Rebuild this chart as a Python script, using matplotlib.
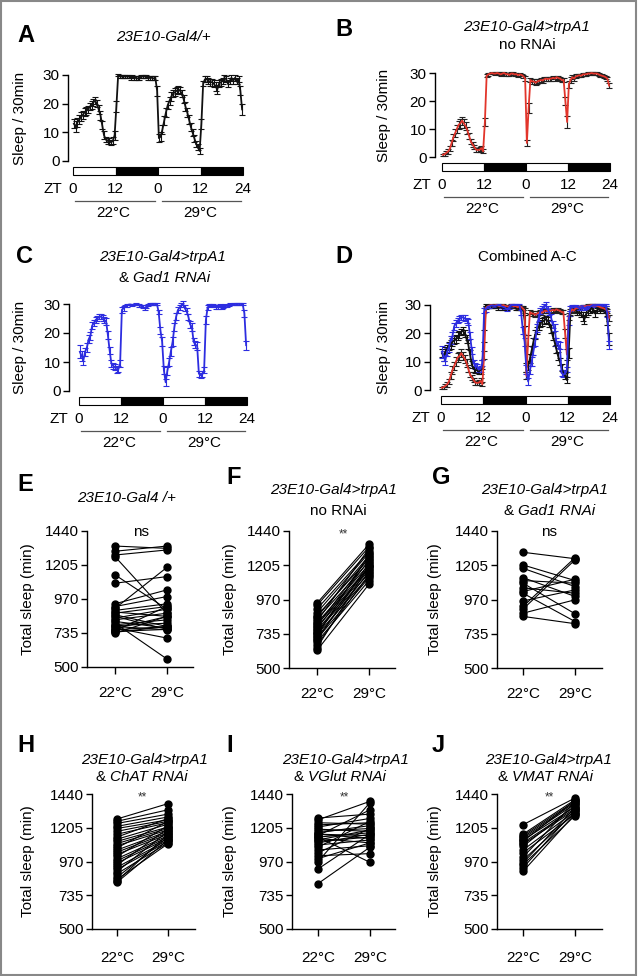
import numpy as np
import matplotlib
matplotlib.use('Agg')
import matplotlib.pyplot as plt
from matplotlib.patches import Rectangle
from matplotlib.transforms import blended_transform_factory

plt.rcParams['font.family'] = ['Liberation Sans', 'DejaVu Sans']
plt.rcParams['axes.linewidth'] = 1.0

# ---------------- data: sleep per 30 min (48 h, 96 half-hour bins) ----------------
# 23E10-Gal4/+  (black)
A_d1 = [13, 12, 13.5, 14.5, 15.5, 16, 17, 17.5, 18, 19, 19.5, 20.5, 21, 20, 18, 16, 12.5, 9, 7.5, 7, 7, 6.5, 7, 9]
A_n1 = [19, 30, 29.5, 29.5, 29.5, 29.5, 29.5, 29.5, 29, 29.5, 29, 29, 28.8, 29, 29.5, 29.5, 29.5, 29.5, 29, 29, 29, 28.8, 29, 24.5]
A_d2 = [8, 8.5, 11, 14, 17, 19.5, 21, 22.5, 23.5, 24, 24.5, 25, 24.5, 23.5, 21.5, 19, 17, 14.5, 12, 10, 8, 6, 5, 3.5]
A_n2 = [13, 27, 28.5, 28.5, 28, 27.5, 27.5, 27, 26, 25, 27, 27.5, 28, 29, 28.5, 27, 28, 29, 28, 29, 28, 28.5, 24.5, 18]
A_sem_d1 = [1.5, 1.8, 1.6, 1.5, 1.5, 1.5, 1.4, 1.4, 1.3, 1.3, 1.3, 1.2, 1.2, 1.3, 1.5, 1.6, 1.5, 1.3, 1.0, 1.0, 0.9, 1.0, 1.2, 1.5]
A_sem_n1 = [2.0, 0.4, 0.5, 0.5, 0.5, 0.5, 0.5, 0.6, 0.6, 0.5, 0.6, 0.6, 0.7, 0.6, 0.5, 0.5, 0.5, 0.5, 0.6, 0.6, 0.6, 0.7, 0.6, 1.8]
A_sem_d2 = [1.5, 1.6, 1.6, 1.6, 1.5, 1.5, 1.4, 1.4, 1.3, 1.3, 1.2, 1.2, 1.2, 1.3, 1.4, 1.5, 1.5, 1.5, 1.4, 1.3, 1.2, 1.1, 1.0, 1.2]
A_sem_n2 = [1.8, 1.0, 1.0, 1.0, 1.0, 1.2, 1.2, 1.2, 1.5, 1.6, 1.2, 1.2, 1.0, 1.0, 1.0, 1.3, 1.0, 1.0, 1.0, 1.0, 1.0, 1.0, 1.5, 2.0]

# 23E10-Gal4>trpA1 no RNAi (red)
B_d1 = [0.8, 1, 1.5, 2, 3, 5, 7, 8.5, 10, 11.5, 12, 13, 12, 11, 9.5, 7.5, 5.5, 4.5, 3.5, 2.6, 2.5, 2.6, 3.2, 2]
B_n1 = [12.4, 29, 29.5, 29.8, 30, 29.8, 29.8, 30, 29.8, 29.5, 29.8, 30, 29.6, 29.6, 29.3, 29.8, 29.8, 29.5, 29.6, 29.2, 29.5, 29.3, 28.8, 28]
B_d2 = [5, 17.5, 27.5, 27, 27, 26.5, 27, 27.2, 27.5, 27.3, 27.8, 28, 27.8, 28, 28, 28.3, 28, 28.5, 28.2, 28, 27.5, 27.5, 20, 12.5]
B_n2 = [26, 27.5, 28.5, 28, 28.8, 29, 29.2, 29, 29.5, 29.5, 29.6, 29.8, 29.8, 30, 29.8, 29.8, 29.8, 29.5, 29.2, 29, 28.8, 28.5, 28, 25.5]
B_sem_d1 = [0.4, 0.5, 0.6, 0.8, 1.0, 1.2, 1.3, 1.4, 1.5, 1.5, 1.5, 1.4, 1.5, 1.4, 1.3, 1.2, 1.0, 0.9, 0.8, 0.7, 0.7, 0.8, 0.9, 0.7]
B_sem_n1 = [1.5, 0.5, 0.4, 0.3, 0.3, 0.3, 0.4, 0.3, 0.4, 0.4, 0.4, 0.3, 0.5, 0.5, 0.5, 0.4, 0.4, 0.5, 0.5, 0.6, 0.5, 0.5, 0.6, 0.8]
B_sem_d2 = [1.2, 1.8, 0.8, 0.8, 0.8, 0.8, 0.8, 0.8, 0.7, 0.8, 0.7, 0.7, 0.8, 0.7, 0.7, 0.6, 0.7, 0.6, 0.7, 0.7, 0.8, 0.8, 1.5, 2.0]
B_sem_n2 = [1.2, 1.0, 0.8, 0.8, 0.7, 0.6, 0.6, 0.6, 0.5, 0.5, 0.5, 0.4, 0.4, 0.3, 0.4, 0.4, 0.4, 0.5, 0.5, 0.6, 0.6, 0.6, 0.7, 1.0]

# 23E10-Gal4>trpA1 & Gad1 RNAi (blue)
C_d1 = [13.5, 12, 10.6, 13.5, 15, 17.8, 19, 22.5, 23.5, 24.5, 25, 25.6, 25.6, 25.3, 24.5, 24, 19.3, 14, 9.5, 8.6, 8.3, 7.2, 7.5, 9.5]
C_n1 = [28, 28.5, 29.3, 29.5, 29.8, 29.8, 29.6, 29.8, 30, 29.8, 29.5, 29.3, 29, 28.5, 29, 29.7, 30, 30, 30, 30, 30, 27.3, 21, 17]
C_d2 = [7.2, 3, 7, 10, 13.7, 17, 22, 25.6, 27.9, 28.8, 29.6, 30, 28.5, 27.5, 25.6, 23, 22, 17, 16, 15.6, 6, 5.4, 5.8, 7.2]
C_n2 = [24.5, 28.8, 29.5, 29.7, 29.5, 29.3, 29, 28.8, 29.5, 28.8, 29.2, 29.5, 29.3, 29.7, 30, 29.8, 30, 30, 30, 30, 30, 30, 26.8, 15.8]
C_sem_d1 = [2.2, 1.8, 1.6, 1.5, 1.5, 1.4, 1.3, 1.2, 1.1, 1.0, 1.0, 0.9, 0.9, 1.0, 1.0, 1.1, 1.3, 1.3, 1.2, 1.1, 1.0, 1.0, 1.0, 1.2]
C_sem_n1 = [1.0, 0.8, 0.5, 0.4, 0.3, 0.3, 0.4, 0.3, 0.2, 0.3, 0.4, 0.4, 0.5, 0.6, 0.5, 0.3, 0.2, 0.2, 0.2, 0.2, 0.2, 0.8, 1.2, 1.5]
C_sem_d2 = [1.5, 1.2, 1.4, 1.5, 1.5, 1.5, 1.4, 1.2, 1.0, 1.0, 0.8, 0.9, 1.0, 1.0, 1.1, 1.2, 1.3, 1.3, 1.3, 1.3, 1.0, 0.9, 1.0, 1.0]
C_sem_n2 = [1.5, 0.8, 0.5, 0.4, 0.5, 0.5, 0.6, 0.6, 0.5, 0.6, 0.5, 0.5, 0.5, 0.4, 0.2, 0.3, 0.2, 0.2, 0.2, 0.2, 0.2, 0.2, 1.2, 1.5]

A_vals = A_d1 + A_n1 + A_d2 + A_n2
A_sem = A_sem_d1 + A_sem_n1 + A_sem_d2 + A_sem_n2
B_vals = B_d1 + B_n1 + B_d2 + B_n2
B_sem = B_sem_d1 + B_sem_n1 + B_sem_d2 + B_sem_n2
C_vals = C_d1 + C_n1 + C_d2 + C_n2
C_sem = C_sem_d1 + C_sem_n1 + C_sem_d2 + C_sem_n2

zt_ticks = [0, 12, 24, 36, 48]
zt_ticklabels = ['0', '12', '0', '12', '24']
temps = ['22°C', '29°C']
sleep_yticks = [0, 10, 20, 30]

# ---------------- data: total sleep per fly (min) ----------------
E_22 = [1336, 1300, 1274, 1263, 1137, 1079, 937, 918, 905, 891, 880, 872, 861, 850, 838, 826, 815, 803, 792, 785, 780, 770, 765, 757, 750, 746, 740, 734]
E_29 = [1320, 1336, 1309, 870, 900, 1125, 1033, 987, 1189, 937, 850, 918, 780, 760, 900, 872, 769, 555, 826, 803, 757, 700, 849, 780, 920, 760, 780, 850]
F_22 = [945, 930, 905, 880, 860, 850, 835, 820, 810, 800, 790, 780, 770, 760, 750, 740, 730, 720, 710, 700, 690, 680, 660, 640, 621]
F_29 = [1349, 1330, 1300, 1290, 1250, 1270, 1230, 1320, 1210, 1190, 1260, 1180, 1240, 1170, 1150, 1200, 1130, 1280, 1160, 1120, 1220, 1100, 1140, 1200, 1075]
G_22 = [1294, 1207, 1184, 1120, 1100, 1082, 1050, 1025, 1013, 960, 922, 904, 876, 854]
G_29 = [1250, 1100, 1059, 991, 1082, 872, 1013, 1109, 819, 1036, 1257, 1242, 968, 804]
H_22 = [1266, 1250, 1235, 1215, 1200, 1180, 1160, 1140, 1125, 1110, 1095, 1080, 1065, 1050, 1035, 1020, 1005, 990, 975, 960, 945, 930, 915, 900, 885, 860, 845, 835, 825]
H_29 = [1373, 1330, 1300, 1280, 1260, 1250, 1240, 1270, 1230, 1210, 1200, 1190, 1250, 1180, 1170, 1160, 1220, 1150, 1140, 1130, 1200, 1120, 1110, 1180, 1100, 1140, 1094, 1160, 1120]
I_22 = [1273, 1260, 1240, 1225, 1210, 1195, 1180, 1170, 1160, 1150, 1140, 1130, 1120, 1110, 1100, 1085, 1070, 1050, 1030, 1010, 990, 970, 918, 816, 1140, 1160]
I_29 = [1300, 1389, 1230, 1240, 1270, 1180, 1200, 1220, 1150, 1330, 1170, 1100, 1190, 1140, 1160, 1120, 1250, 1080, 1200, 1025, 1100, 1380, 1160, 1070, 964, 1130]
J_22 = [1226, 1160, 1150, 1140, 1130, 1120, 1110, 1100, 1090, 1075, 1050, 1030, 1000, 980, 960, 948, 925, 901]
J_29 = [1412, 1400, 1390, 1380, 1370, 1350, 1395, 1340, 1330, 1360, 1320, 1300, 1385, 1310, 1345, 1289, 1330, 1300]
total_yticks = [500, 735, 970, 1205, 1440]

BLACK = '#111111'
RED = '#e2352b'
BLUE = '#2d2de0'

W, H = 640, 976
fig = plt.figure(figsize=(W / 100, H / 100), dpi=100)

FS = 11
TFS = 11
LFS = 17


def ax_px(l, r, t, b):
    return fig.add_axes([l / W, 1 - b / H, (r - l) / W, (b - t) / H])


def sleep_panel(spine_x, x0, x48, y30, y0, series, ylab_off):
    pph = (x48 - x0) / 48.0
    ppu = (y0 - y30) / 30.0
    ylo, yhi = -1.0, 31.8
    ax = ax_px(spine_x, x48 + 2, y30 - (yhi - 30) * ppu, y0 - ylo * ppu)
    ax.set_xlim(-(x0 - spine_x) / pph, 48 + 2 / pph)
    ax.set_ylim(ylo, yhi)
    for s in ['top', 'right', 'bottom']:
        ax.spines[s].set_visible(False)
    ax.spines['left'].set_bounds(0, 30)
    ax.set_xticks([])
    ax.set_yticks(sleep_yticks)
    ax.tick_params(axis='y', direction='out', length=4, width=1, labelsize=FS, pad=2)
    zt = np.arange(96) * 0.5 + 0.25
    for vals, sem, col, ecol in series:
        eb = ax.errorbar(zt, vals, yerr=sem, color=col, ecolor=ecol, lw=1.3,
                         elinewidth=0.8, capsize=2.0, capthick=0.8)
        for art in eb.get_children():
            art.set_clip_on(False)
    # light / dark bar
    d = lambda px: -px / ppu
    bt, bb = d(6), d(13.5)
    for i, st in enumerate([0, 12, 24, 36]):
        fc = 'white' if i % 2 == 0 else 'black'
        ax.add_patch(Rectangle((st, bb), 12, bt - bb, facecolor=fc, edgecolor='black',
                               lw=0.8, clip_on=False))
    yl = d(28)
    for t, lab in zip(zt_ticks, zt_ticklabels):
        ax.text(t, yl, lab, ha='center', va='center', fontsize=FS, clip_on=False)
    ax.text(-20 / pph, yl, 'ZT', ha='center', va='center', fontsize=FS, clip_on=False)
    yline = d(40)
    ax.plot([0.7, 23.2], [yline, yline], color='#555555', lw=0.9, clip_on=False)
    ax.plot([25.2, 47.5], [yline, yline], color='#555555', lw=0.9, clip_on=False)
    ytemp = d(52)
    ax.text(11.5, ytemp, temps[0], ha='center', va='center', fontsize=FS, clip_on=False)
    ax.text(35.8, ytemp, temps[1], ha='center', va='center', fontsize=FS, clip_on=False)
    ax.set_ylabel('Sleep / 30min', fontsize=FS)
    tr = blended_transform_factory(ax.transAxes, ax.transData)
    axw = x48 + 2 - spine_x
    ax.yaxis.set_label_coords(-ylab_off / axw, 15, transform=tr)
    return ax


def paired_panel(l, r, t, b, x22, x29, v22, v29, sig, pad, ylab_off):
    ax = ax_px(l, r, t, b)
    ax.set_ylim(500, 1440)
    x_left = -(x22 - l) / (x29 - x22)
    x_right = 1 + (r - x29) / (x29 - x22)
    ax.set_xlim(x_left, x_right)
    for a, c in zip(v22, v29):
        ax.plot([0, 1], [a, c], color='black', lw=0.8, marker='o', ms=5,
                mec='black', mfc='black', clip_on=False)
    ax.set_yticks(total_yticks)
    ax.set_xticks([0, 1])
    ax.set_xticklabels(temps)
    ax.spines['top'].set_visible(False)
    ax.spines['right'].set_visible(False)
    ax.tick_params(axis='y', direction='out', length=4, width=1, labelsize=FS, pad=2)
    ax.tick_params(axis='x', direction='out', length=5, width=1, labelsize=FS, pad=pad)
    ax.set_ylabel('Total sleep (min)', fontsize=FS)
    ax.yaxis.set_label_coords(-ylab_off / (r - l), 0.5)
    if sig == 'ns':
        ax.text(0.5, 1436, sig, ha='center', va='center', fontsize=FS, clip_on=False)
    else:
        ax.text(0.5, 1418, sig, ha='center', va='center', fontsize=8.5, clip_on=False,
                color='#333333')
    return ax


# ---------------- top: sleep profiles ----------------
black_s = (A_vals, A_sem, BLACK, BLACK)
red_s = (B_vals, B_sem, RED, '#222222')
blue_s = (C_vals, C_sem, BLUE, BLUE)

sleep_panel(68, 73, 243, 75, 161, [black_s], 41)
sleep_panel(435, 442, 610, 73, 157, [red_s], 44)
sleep_panel(69, 79, 247, 304, 391, [blue_s], 42)
sleep_panel(430, 441, 610, 305, 390, [black_s, red_s, blue_s], 39)

# ---------------- bottom: total sleep ----------------
paired_panel(87, 193, 531, 667, 115, 167, E_22, E_29, 'ns', 9, 52)
paired_panel(289, 395, 531, 668, 317, 369, F_22, F_29, '**', 9, 52)
paired_panel(497, 602, 531, 668, 523, 575, G_22, G_29, 'ns', 9, 55)
paired_panel(92, 195, 794, 929, 117, 168, H_22, H_29, '**', 11, 57)
paired_panel(292, 395, 794, 929, 318, 370, I_22, I_29, '**', 11, 55)
paired_panel(497, 602, 794, 929, 523, 575, J_22, J_29, '**', 11, 55)


# ---------------- text: titles & panel letters ----------------
def ftext(x, y, s, **kw):
    fig.text(x / W, 1 - y / H, s, ha='center', va='center', **kw)


def letter(x, y, s):
    fig.text(x / W, 1 - y / H, s, ha='left', va='center', fontsize=LFS, fontweight='bold')


def amp_title(xc, y, gene):
    # "& <gene> RNAi" with the gene part in italics
    fig.text(xc / W, 1 - y / H, '& ', ha='right', va='center', fontsize=TFS)
    fig.text(xc / W, 1 - y / H, gene + ' RNAi', ha='left', va='center', fontsize=TFS, style='italic')


letter(17, 36, 'A')
ftext(163, 37, '23E10-Gal4/+', fontsize=TFS, style='italic')
letter(335, 30, 'B')
ftext(527, 27, '23E10-Gal4>trpA1', fontsize=TFS, style='italic')
ftext(527, 45, 'no RNAi', fontsize=TFS)
letter(16, 256, 'C')
ftext(163, 257, '23E10-Gal4>trpA1', fontsize=TFS, style='italic')
letter(335, 256, 'D')
ftext(527, 257, 'Combined A-C', fontsize=TFS)

letter(17, 485, 'E')
ftext(127, 498, '23E10-Gal4 /+', fontsize=TFS, style='italic')
letter(226, 477, 'F')
ftext(334, 490, '23E10-Gal4>trpA1', fontsize=TFS, style='italic')
ftext(338, 511, 'no RNAi', fontsize=TFS)
letter(432, 477, 'G')
ftext(545, 490, '23E10-Gal4>trpA1', fontsize=TFS, style='italic')
letter(17, 745, 'H')
ftext(145, 760, '23E10-Gal4>trpA1', fontsize=TFS, style='italic')
letter(226, 745, 'I')
ftext(346, 760, '23E10-Gal4>trpA1', fontsize=TFS, style='italic')
letter(432, 745, 'J')
ftext(549, 760, '23E10-Gal4>trpA1', fontsize=TFS, style='italic')

amp_title(133, 278, 'Gad1')
amp_title(518, 511, 'Gad1')
amp_title(110, 777, 'ChAT')
amp_title(308, 777, 'VGlut')
amp_title(512, 777, 'VMAT')

# figure frame
fig.add_artist(Rectangle((1 / W, 1 / H), 635 / W, 974 / H, transform=fig.transFigure,
                         fill=False, edgecolor='#888888', lw=1.5))

fig.savefig('out.png', dpi=100)
